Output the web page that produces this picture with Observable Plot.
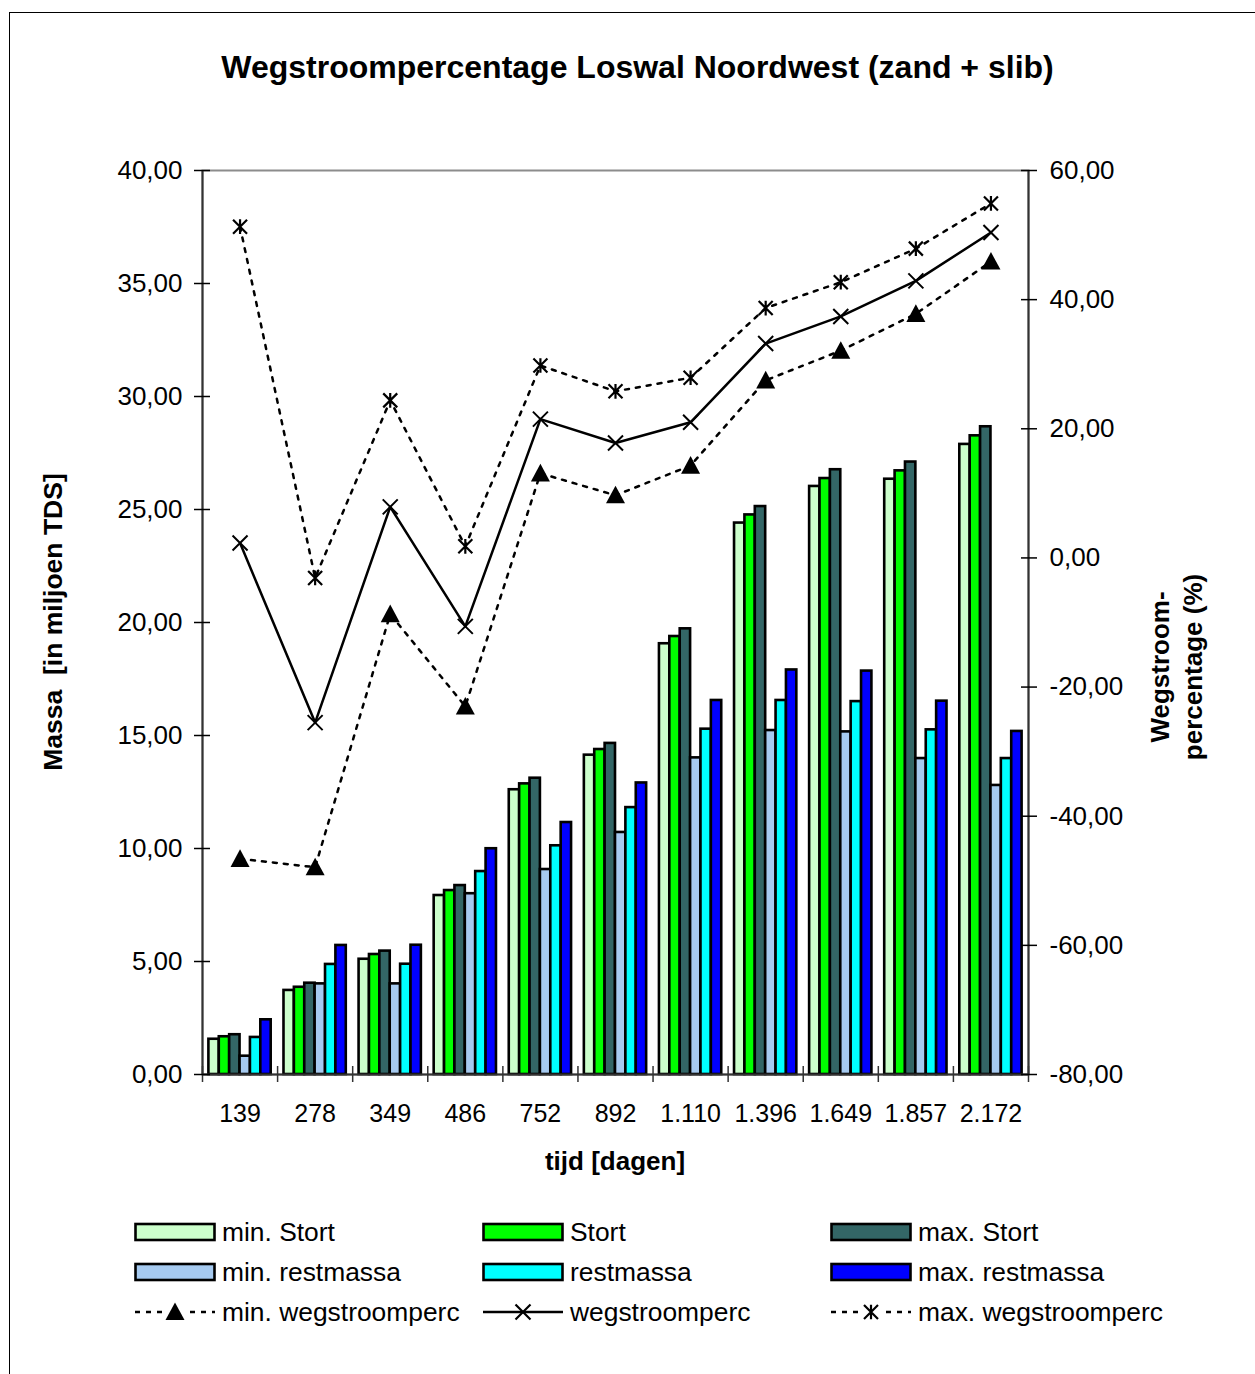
<!DOCTYPE html>
<html>
<head>
<meta charset="utf-8">
<script src="https://cdn.jsdelivr.net/npm/d3@7"></script>
<script src="https://cdn.jsdelivr.net/npm/@observablehq/plot@0.6"></script>
<style>
  body { margin: 0; background: #fff; font-family: "Liberation Sans", Arial, sans-serif; }
  #wrap { position: relative; width: 1255px; height: 1374px; overflow: hidden; background: #fff; }
  #frame { position: absolute; left: 9px; top: 12px; width: 1400px; height: 1500px; border: 1.5px solid #000; }
  .txt { position: absolute; white-space: pre; line-height: 1; color: #000; }
  #chart { position: absolute; left: 0; top: 0; }
</style>
</head>
<body>
<div id="wrap">
  <div id="frame"></div>
  <div id="chart"></div>
</div>
<script>
// ---------- data ----------
const categories = ["139", "278", "349", "486", "752", "892", "1.110", "1.396", "1.649", "1.857", "2.172"];
const minStort = [1.56, 3.72, 5.10, 7.92, 12.60, 14.13, 19.06, 24.40, 26.02, 26.34, 27.88];
const stort    = [1.67, 3.86, 5.31, 8.14, 12.86, 14.38, 19.38, 24.76, 26.37, 26.71, 28.26];
const maxStort = [1.76, 4.04, 5.46, 8.36, 13.11, 14.65, 19.72, 25.13, 26.76, 27.10, 28.66];
const minRest  = [0.81, 4.01, 4.01, 8.00, 9.07, 10.71, 14.01, 15.22, 15.16, 13.98, 12.79];
const rest     = [1.64, 4.87, 4.88, 8.98, 10.12, 11.81, 15.28, 16.55, 16.50, 15.25, 13.98];
const maxRest  = [2.42, 5.71, 5.72, 9.99, 11.15, 12.90, 16.55, 17.90, 17.85, 16.52, 15.18];
const minPct   = [-46.6, -47.9, -8.7, -23.0, 13.1, 9.7, 14.3, 27.5, 32.1, 37.8, 45.9];
const wegPct   = [2.3, -25.5, 7.9, -10.6, 21.5, 17.8, 21.0, 33.2, 37.4, 42.9, 50.4];
const maxPct   = [51.3, -3.1, 24.4, 1.8, 29.8, 25.8, 27.9, 38.7, 42.7, 47.9, 54.9];
const barNames  = ["min. Stort", "Stort", "max. Stort", "min. restmassa", "restmassa", "max. restmassa"];
const barColors = ["#CCFFCC", "#00FF00", "#336666", "#A6CAF0", "#00FFFF", "#0000FF"];
const lineNames = ["min. wegstroomperc", "wegstroomperc", "max. wegstroomperc"];
const massTicks = [0, 5, 10, 15, 20, 25, 30, 35, 40];
const pctTicks  = [-80, -60, -40, -20, 0, 20, 40, 60];
const titleText = "Wegstroompercentage Loswal Noordwest (zand + slib)";
const yTitle = "Massa  [in miljoen TDS]";
const y2Title = ["Wegstroom-", "percentage (%)"];
const xTitle = "tijd [dagen]";

// ---------- helpers ----------
const massMax = 40, pctMin = -80, pctMax = 60;
const toLeft = p => (p - pctMin) * massMax / (pctMax - pctMin);
const fromLeft = m => m * (pctMax - pctMin) / massMax + pctMin;
const fmt = v => (Math.abs(v) < 1e-9 ? 0 : v).toFixed(2).replace(".", ",");

const W = 1255, H = 1374;
const mL = 202, mR = 227, mT = 170, mB = 300;
const step = (W - mL - mR) / categories.length;
const gapHalf = 6.4;
const bw = (step - 2 * gapHalf) / 6;
const pxPerUnit = (H - mT - mB) / massMax;
const tickU = 8 / pxPerUnit;

const barSeries = [minStort, stort, maxStort, minRest, rest, maxRest];
const barMarks = barSeries.map((vals, i) =>
  Plot.barY(categories.map((c, j) => ({cat: c, v: vals[j]})), {
    x: "cat", y: "v", fill: barColors[i], stroke: "#000", strokeWidth: 2.6,
    insetLeft: gapHalf + i * bw, insetRight: step - gapHalf - (i + 1) * bw
  })
);

const pctData = vals => categories.map((c, j) => ({cat: c, m: toLeft(vals[j])}));

const starSymbol = {
  draw(ctx, size) {
    const r = Math.sqrt(size / Math.PI);
    ctx.moveTo(-r, -r); ctx.lineTo(r, r);
    ctx.moveTo(-r, r); ctx.lineTo(r, -r);
    ctx.moveTo(0, -r * 1.05); ctx.lineTo(0, r * 1.05);
  }
};
const timesSymbol = {
  draw(ctx, size) {
    const r = Math.sqrt(size / Math.PI);
    ctx.moveTo(-r, -r); ctx.lineTo(r, r);
    ctx.moveTo(-r, r); ctx.lineTo(r, -r);
  }
};
const triSymbol = {
  draw(ctx, size) {
    const r = Math.sqrt(size / Math.PI);
    ctx.moveTo(0, -r); ctx.lineTo(r, r * 0.85); ctx.lineTo(-r, r * 0.85); ctx.closePath();
  }
};

const last = categories[categories.length - 1];

const plot = Plot.plot({
  width: W, height: H,
  marginLeft: mL, marginRight: mR, marginTop: mT, marginBottom: mB,
  style: {background: "transparent", fontFamily: "'Liberation Sans', Arial, sans-serif", fontSize: "26px", color: "#000"},
  x: {type: "band", domain: categories, padding: 0, round: false, axis: null, label: null},
  y: {domain: [0, massMax], axis: null, label: null},
  marks: [
    Plot.frame({stroke: "#8c8c8c", strokeWidth: 2}),
    ...barMarks,
    // axis lines
    Plot.ruleY([0], {stroke: "#333", strokeWidth: 2}),
    Plot.ruleX([categories[0]], {dx: -step / 2, y1: 0, y2: massMax, stroke: "#333", strokeWidth: 2}),
    Plot.ruleX([last], {dx: step / 2, y1: 0, y2: massMax, stroke: "#333", strokeWidth: 2}),
    // category boundary ticks
    Plot.ruleX(categories, {dx: -step / 2, y1: -tickU, y2: tickU, stroke: "#333", strokeWidth: 1.5}),
    Plot.ruleX([last], {dx: step / 2, y1: -tickU, y2: tickU, stroke: "#333", strokeWidth: 1.5}),
    // left axis
    Plot.axisY(massTicks, {anchor: "left", label: null, tickSize: 16, dx: 8, tickPadding: 12, tickFormat: fmt, fontSize: 26, strokeWidth: 1.5}),
    // right axis
    Plot.axisY(pctTicks.map(toLeft), {anchor: "right", label: null, tickSize: 16, dx: -8, tickPadding: 13, tickFormat: d => fmt(fromLeft(d)), fontSize: 26, strokeWidth: 1.5}),
    // x axis labels
    Plot.axisX(categories, {anchor: "bottom", label: null, tickSize: 0, tickPadding: 30, fontSize: 25}),
    // lines
    Plot.line(pctData(minPct), {x: "cat", y: "m", stroke: "#000", strokeWidth: 2.5, strokeDasharray: "4,7"}),
    Plot.line(pctData(maxPct), {x: "cat", y: "m", stroke: "#000", strokeWidth: 2.5, strokeDasharray: "4,7"}),
    Plot.line(pctData(wegPct), {x: "cat", y: "m", stroke: "#000", strokeWidth: 2.5}),
    Plot.dot(pctData(minPct), {x: "cat", y: "m", symbol: triSymbol, r: 9.5, fill: "#000", stroke: "none"}),
    Plot.dot(pctData(wegPct), {x: "cat", y: "m", symbol: timesSymbol, r: 7.5, fill: "none", stroke: "#000", strokeWidth: 2}),
    Plot.dot(pctData(maxPct), {x: "cat", y: "m", symbol: starSymbol, r: 7, fill: "none", stroke: "#000", strokeWidth: 2.2})
  ]
});
document.getElementById("chart").appendChild(plot);

// ---------- text ----------
const wrap = document.getElementById("wrap");
function addText(str, css) {
  const d = document.createElement("div");
  d.className = "txt";
  d.textContent = str;
  Object.assign(d.style, css);
  wrap.appendChild(d);
  return d;
}
addText(titleText, {left: "0px", width: "1275px", textAlign: "center", top: "51px", fontSize: "32px", fontWeight: "bold"});
addText(xTitle, {left: "615px", top: "1148px", transform: "translateX(-50%)", fontSize: "26px", fontWeight: "bold"});
addText(yTitle, {left: "53px", top: "622px", transform: "translate(-50%,-50%) rotate(-90deg)", fontSize: "26.5px", fontWeight: "bold"});
const y2 = addText("", {left: "1177px", top: "667px", transform: "translate(-50%,-50%) rotate(-90deg)", fontSize: "26px", fontWeight: "bold", lineHeight: "33px", textAlign: "center"});
y2.textContent = y2Title.join("\n");

// ---------- legend ----------
const colX = [135, 483, 831];
const rowY = [1232, 1272, 1312];
const legendItems = [];
barNames.forEach((n, i) => legendItems.push({name: n, kind: "bar", color: barColors[i], row: Math.floor(i / 3), col: i % 3}));
lineNames.forEach((n, i) => legendItems.push({name: n, kind: "line", idx: i, row: 2, col: i}));
const symbols = [triSymbol, timesSymbol, starSymbol];
legendItems.forEach(it => {
  const x = colX[it.col], y = rowY[it.row];
  const svg = d3.create("svg").attr("width", 84).attr("height", 24)
    .style("position", "absolute").style("left", (x - 1) + "px").style("top", (y - 12) + "px");
  if (it.kind === "bar") {
    svg.append("rect").attr("x", 1.5).attr("y", 4).attr("width", 79).attr("height", 16)
      .attr("fill", it.color).attr("stroke", "#000").attr("stroke-width", 2.6);
  } else {
    svg.append("line").attr("x1", 1).attr("x2", 81).attr("y1", 12).attr("y2", 12)
      .attr("stroke", "#000").attr("stroke-width", 2.5)
      .attr("stroke-dasharray", it.idx === 1 ? null : "5,6");
    const sym = symbols[it.idx];
    const r = it.idx === 0 ? 9.5 : it.idx === 1 ? 7.5 : 7;
    const p = d3.path(); sym.draw(p, r * r * Math.PI);
    svg.append("path").attr("transform", "translate(41,12)").attr("d", p.toString())
      .attr("fill", it.idx === 0 ? "#000" : "none").attr("stroke", it.idx === 0 ? "none" : "#000")
      .attr("stroke-width", 2.2);
    if (it.idx !== 1) {
      svg.insert("rect", "path").attr("x", 30).attr("y", 2).attr("width", 22).attr("height", 20).attr("fill", "#fff");
    }
  }
  wrap.appendChild(svg.node());
  addText(it.name, {left: (x + 87) + "px", top: (y - 13) + "px", fontSize: "26.4px"});
});
</script>
</body>
</html>
